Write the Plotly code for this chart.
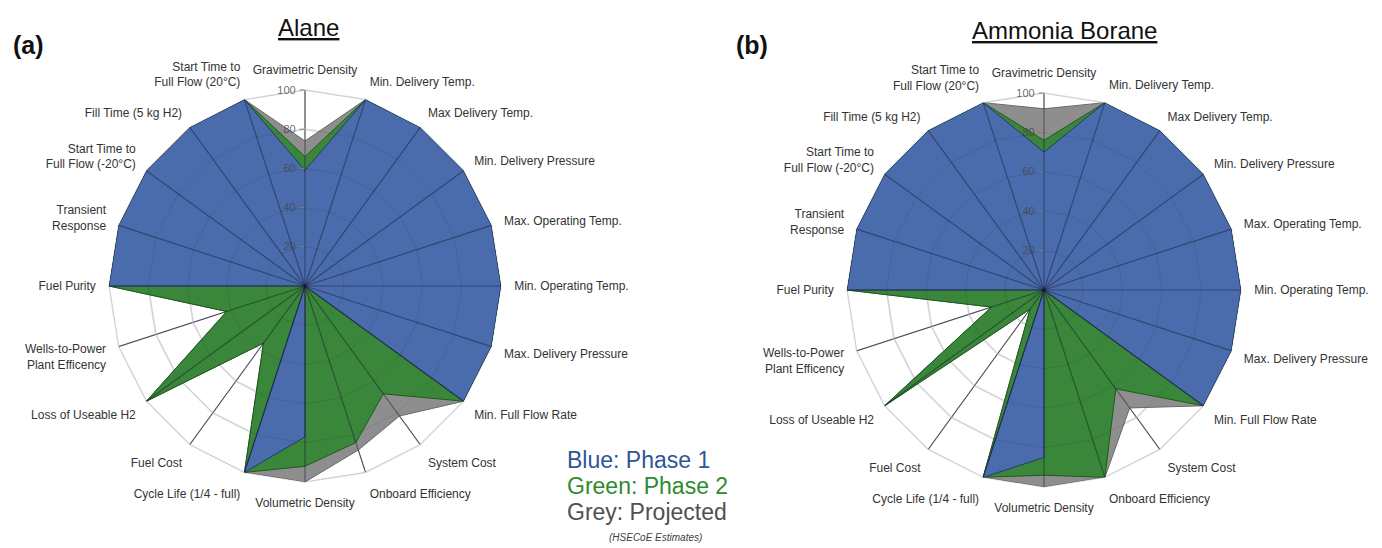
import plotly.graph_objects as go

categories = [
    "Gravimetric Density", "Min. Delivery Temp.", "Max Delivery Temp.",
    "Min. Delivery Pressure", "Max. Operating Temp.", "Min. Operating Temp.",
    "Max. Delivery Pressure", "Min. Full Flow Rate", "System Cost",
    "Onboard Efficiency", "Volumetric Density", "Cycle Life (1/4 - full)",
    "Fuel Cost", "Loss of Useable H2", "Wells-to-Power<br>Plant Efficency",
    "Fuel Purity", "Transient<br>Response", "Start Time to<br>Full Flow (-20°C)",
    "Fill Time (5 kg H2)", "Start Time to<br>Full Flow (20°C)",
]

# Alane
alane_phase1 = [59, 100, 100, 100, 100, 100, 100, 100, 0, 0, 77, 100, 0, 0, 0, 100, 100, 100, 100, 100]
alane_phase2 = [66, 100, 100, 100, 100, 100, 100, 100, 68, 84, 92, 100, 36, 100, 42, 100, 100, 100, 100, 100]
alane_projected = [74, 100, 100, 100, 100, 100, 100, 100, 82, 88, 100, 100, 36, 100, 42, 100, 100, 100, 100, 100]

# Ammonia Borane
ab_phase1 = [70, 100, 100, 100, 100, 100, 100, 100, 0, 0, 85, 100, 0, 0, 0, 100, 100, 100, 100, 100]
ab_phase2 = [76, 100, 100, 100, 100, 100, 100, 100, 62, 100, 94, 100, 12, 100, 28, 100, 100, 100, 100, 100]
ab_projected = [92, 100, 100, 100, 100, 100, 100, 100, 74, 100, 100, 100, 12, 100, 28, 100, 100, 100, 100, 100]

radial_ticks = [20, 40, 60, 80, 100]
radial_max = 100

series_style = [
    ("Grey: Projected", "rgb(142,142,142)", "rgb(105,105,105)"),
    ("Green: Phase 2", "rgb(58,134,58)", "rgb(30,90,30)"),
    ("Blue: Phase 1", "rgb(74,108,172)", "rgb(38,58,108)"),
]

# page offset: the html body keeps an 8px margin
OFF = 8
W, H = 1382 - OFF, 548 - OFF

def px(x):
    return (x - OFF) / W

def py(y):
    return 1 - (y - OFF) / H

fig = go.Figure()

def closed(v):
    return list(v) + [v[0]]

font_family = "Liberation Sans, Arial, sans-serif"

for subplot, data in (("polar", [alane_projected, alane_phase2, alane_phase1]),
                      ("polar2", [ab_projected, ab_phase2, ab_phase1])):
    for (name, fillc, linec), vals in zip(series_style, data):
        fig.add_trace(go.Scatterpolar(
            r=closed(vals), theta=closed(categories), mode="lines",
            fill="toself", fillcolor=fillc,
            line=dict(color=linec, width=1),
            name=name, showlegend=False, subplot=subplot, hoverinfo="skip",
        ))
    # see-through grid over the filled areas (spokes and rings)
    spoke_r, spoke_t = [], []
    for c in categories:
        spoke_r += [0, radial_max, None]
        spoke_t += [c, c, None]
    fig.add_trace(go.Scatterpolar(
        r=spoke_r, theta=spoke_t, mode="lines",
        line=dict(color="rgba(20,25,45,0.45)", width=1.2),
        showlegend=False, subplot=subplot, hoverinfo="skip",
    ))
    ring_r, ring_t = [], []
    for t in radial_ticks:
        ring_r += [t] * (len(categories) + 1) + [None]
        ring_t += closed(categories) + [None]
    fig.add_trace(go.Scatterpolar(
        r=ring_r, theta=ring_t, mode="lines",
        line=dict(color="rgba(0,0,0,0.09)", width=1),
        showlegend=False, subplot=subplot, hoverinfo="skip",
    ))

def polar_layout(cx, cy, R):
    return dict(
        domain=dict(x=[px(cx - R), px(cx + R)], y=[py(cy + R), py(cy - R)]),
        bgcolor="white",
        gridshape="linear",
        radialaxis=dict(
            range=[0, radial_max], tickvals=radial_ticks, angle=90,
            side="counterclockwise", ticks="outside", ticklen=5,
            tickcolor="#808080", showline=False,
            gridcolor="#e4e4e4", gridwidth=1.5, tickangle=90,
            tickfont=dict(size=11, color="rgba(70,70,70,0.8)", family=font_family),
            layer="above traces",
        ),
        angularaxis=dict(
            type="category", categoryarray=categories,
            rotation=90, direction="clockwise",
            gridcolor="#7a7a7a", gridwidth=1.2,
            linecolor="#dcdcdc", linewidth=1.5,
            ticks="outside", ticklen=10, tickcolor="rgba(0,0,0,0)",
            tickfont=dict(size=12, color="#333333", family=font_family),
            layer="below traces",
        ),
    )

fig.update_layout(
    width=W, height=H,
    margin=dict(l=0, r=0, t=0, b=0),
    paper_bgcolor="white",
    font=dict(family=font_family),
    polar=polar_layout(305, 286, 196),
    polar2=polar_layout(1044, 290, 197),
)

annotations = [
    dict(x=308, y=27, text="<u>Alane</u>", size=24, color="#111111", anchor="center"),
    dict(x=1064, y=30, text="<u>Ammonia Borane</u>", size=24, color="#111111", anchor="center"),
    dict(x=11, y=45, text="<b>(a)</b>", size=25, color="#111111", anchor="left"),
    dict(x=734, y=45, text="<b>(b)</b>", size=25, color="#111111", anchor="left"),
    dict(x=565, y=460, text="Blue: Phase 1", size=23, color="#2f5597", anchor="left"),
    dict(x=565, y=486, text="Green: Phase 2", size=23, color="#2e8b2e", anchor="left"),
    dict(x=565, y=512, text="Grey: Projected", size=23, color="#505050", anchor="left"),
    dict(x=655, y=537, text="<i>(HSECoE Estimates)</i>", size=10, color="#404040", anchor="center"),
]
for a in annotations:
    fig.add_annotation(
        x=px(a["x"]), y=py(a["y"]), xref="paper", yref="paper",
        text=a["text"], showarrow=False, xanchor=a["anchor"], yanchor="middle",
        font=dict(size=a["size"], color=a["color"], family=font_family),
    )

fig.write_html("out.html")
